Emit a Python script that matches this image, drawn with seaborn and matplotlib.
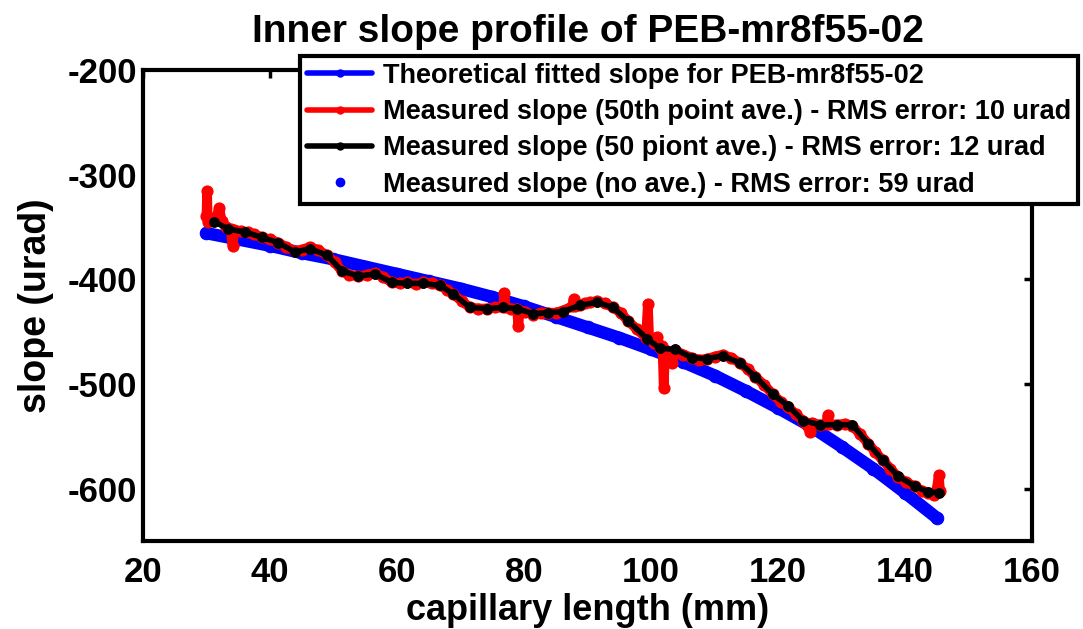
import matplotlib.pyplot as plt
import seaborn as sns
from matplotlib.lines import Line2D

# theoretical fitted slope (blue)
theo_x = [30, 35, 40, 45, 50, 55, 60, 65, 70, 75, 80, 85, 90, 95, 100,
          105, 110, 115, 120, 125, 130, 135, 140, 145]
theo_y = [-356, -362, -368, -375, -381, -388, -395, -402, -409, -417, -426,
          -436, -446, -456, -467, -479, -492, -507, -523, -540, -560, -581,
          -604, -628]

# measured slope, every 50th point (red)
red_x = [30.0, 30.1, 30.2, 30.6, 31.0, 31.6, 32.0, 32.4, 33.0, 33.8, 34.1, 34.4,
         35.5, 36.5, 37.5, 38.7, 40.0, 41.3, 42.5, 43.9, 45.0, 46.3, 47.5, 49.0,
         50.2, 51.3, 52.5, 53.9, 55.2, 56.5, 57.8, 59.2, 60.5, 61.6, 63.0, 64.1,
         65.5, 66.8, 67.8, 68.8, 70.2, 71.5, 72.8, 74.2, 75.5, 76.7, 76.9, 77.1,
         78.0, 78.9, 79.1, 79.3, 80.2, 81.4, 82.6, 83.8, 85.0, 86.1, 87.6, 87.8,
         88.0, 88.8, 89.6, 90.4, 91.5, 92.7, 94.0, 95.2, 96.4, 97.8, 99.2, 99.5,
         99.7, 100.4, 101.0, 101.4, 101.8, 102.0, 102.2, 102.8, 103.3, 103.8,
         105.1, 106.5, 107.6, 108.8, 110.0, 111.3, 112.6, 114.0, 115.2, 116.4,
         117.8, 119.2, 120.4, 121.6, 122.8, 123.9, 125.1, 125.3, 126.6, 127.6,
         127.8, 128.0, 129.3, 130.5, 131.7, 132.9, 134.2, 135.3, 136.5, 137.7,
         138.9, 140.2, 141.6, 142.6, 143.6, 144.6, 145.0, 145.3, 145.5]
red_y = [-340, -316, -345, -342, -343, -340, -332, -344, -350, -352, -368, -353,
         -354, -355, -357, -360, -362, -365, -369, -373, -372, -369, -372, -377,
         -384, -392, -396, -397, -396, -394, -398, -403, -404, -403, -405, -403,
         -404, -406, -410, -414, -421, -427, -428, -428, -427, -427, -413, -427,
         -428, -428, -445, -430, -431, -434, -432, -432, -432, -430, -426, -419,
         -426, -425, -423, -422, -421, -423, -427, -432, -440, -448, -456, -424,
         -456, -461, -455, -466, -464, -504, -468, -470, -480, -468,
         -472, -475, -477, -476, -474, -472, -475, -480, -486, -493,
         -501, -510, -517, -522, -529, -535, -546, -537, -539, -538,
         -530, -538, -539, -538, -540, -548, -557, -565, -573, -581,
         -589, -594, -598, -602, -604, -606, -600, -587, -602]

# measured slope, 50 point average (black)
blk_x = [31.2, 33.4, 36.1, 38.7, 41.3, 43.9, 46.3, 49.0, 51.3, 53.9, 56.5, 59.2,
         61.6, 64.1, 66.8, 68.8, 71.5, 74.2, 76.7, 78.9, 81.4, 83.8, 86.1, 88.8,
         91.5, 94.0, 96.4, 99.4, 101.4, 103.8, 106.5, 108.8, 111.3, 114.0, 116.4,
         119.2, 121.6, 123.9, 126.6, 129.3, 131.7, 134.2, 136.5, 138.9, 141.6,
         143.6, 145.3]
blk_y = [-345, -352, -355, -360, -365, -374, -371, -377, -392, -397, -395, -403,
         -404, -404, -406, -414, -427, -428, -427, -428, -433, -432, -431, -425,
         -422, -427, -440, -457, -466, -467, -475, -476, -473, -480, -493,
         -510, -521, -535, -539, -539, -539, -557, -573, -588, -598,
         -603, -604]

labels = ["Theoretical fitted slope for PEB-mr8f55-02",
          "Measured slope (50th point ave.) - RMS error: 10 urad",
          "Measured slope (50 piont ave.) - RMS error: 12 urad",
          "Measured slope (no ave.) - RMS error: 59 urad"]

sns.set_style("white")
plt.rcParams['font.family'] = ['Liberation Sans', 'DejaVu Sans']
plt.rcParams['font.weight'] = 'bold'
plt.rcParams['axes.unicode_minus'] = False
plt.rcParams['text.color'] = 'black'
plt.rcParams['axes.labelcolor'] = 'black'
plt.rcParams['xtick.color'] = 'black'
plt.rcParams['ytick.color'] = 'black'

fig = plt.figure(figsize=(10.83, 6.29), dpi=100)
ax = fig.add_axes([0.132, 0.140, 0.821, 0.749])

sns.lineplot(x=theo_x, y=theo_y, color='#0000ff', lw=9, marker='o', ms=9,
             mec='#0000ff', estimator=None, sort=False, ax=ax)
sns.lineplot(x=red_x, y=red_y, color='#ff0000', lw=7, marker='o', ms=8,
             mec='#ff0000', estimator=None, sort=False, ax=ax)
sns.lineplot(x=blk_x, y=blk_y, color='black', lw=4, marker='o', ms=7,
             mec='black', estimator=None, sort=False, ax=ax)

ax.set_xlim(20, 160)
ax.set_ylim(-650, -200)
ax.set_xticks([20, 40, 60, 80, 100, 120, 140, 160])
ax.set_yticks([-600, -500, -400, -300, -200])
ax.tick_params(direction='in', length=6, width=2.5, top=True, right=True,
               labelsize=25, color='black', labelcolor='black')
ax.tick_params(axis='x', pad=11)
ax.tick_params(axis='y', pad=4)
for s in ax.spines.values():
    s.set_linewidth(3)
    s.set_color('black')

ax.set_title("Inner slope profile of PEB-mr8f55-02", fontsize=28,
             fontweight='bold', pad=20, color='black')
ax.set_xlabel("capillary length (mm)", fontsize=26, fontweight='bold', labelpad=3)
ax.set_ylabel("slope (urad)", fontsize=27, fontweight='bold', labelpad=10)

handles = [
    Line2D([], [], color='#0000ff', lw=4, marker='o', ms=5),
    Line2D([], [], color='#ff0000', lw=4, marker='o', ms=5),
    Line2D([], [], color='black', lw=4, marker='o', ms=5),
    Line2D([], [], color='#0000ff', lw=0, marker='o', ms=6),
]
leg = fig.legend(handles, labels, loc='upper right',
                 bbox_to_anchor=(1078 / 1083, 1 - 56 / 629),
                 prop={'size': 19.5, 'weight': 'bold'}, fancybox=False,
                 framealpha=1, edgecolor='black', borderpad=0.25,
                 labelspacing=0.38, handlelength=2.4, handletextpad=0.4,
                 numpoints=1, borderaxespad=0)
leg.get_frame().set_linewidth(3)

fig.savefig("out.png", dpi=100)
